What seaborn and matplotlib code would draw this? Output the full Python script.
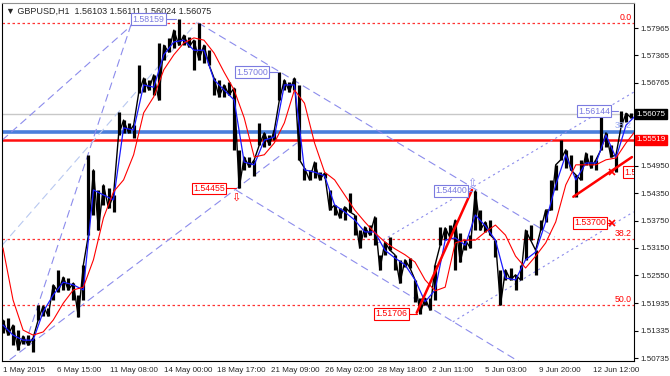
import numpy as np
import pandas as pd
import matplotlib
matplotlib.use("Agg")
import matplotlib.pyplot as plt
import seaborn as sns

# hourly GBPUSD bars, one sample every 6 bars (high / low)
bar_high = [1.5157, 1.5162, 1.5146, 1.5135, 1.5122, 1.5124, 1.5118, 1.5190, 1.5188, 1.5183,
            1.5234, 1.5267, 1.5251, 1.5249, 1.5238, 1.5212, 1.5278, 1.5519, 1.5486, 1.5442,
            1.5453, 1.5446, 1.5431, 1.5613, 1.5595, 1.5589, 1.5584, 1.5716, 1.5687, 1.5683,
            1.5694, 1.5764, 1.5759, 1.5775, 1.5792, 1.5816, 1.5781, 1.5777, 1.5770, 1.5808,
            1.5759, 1.5748, 1.5687, 1.5683, 1.5672, 1.5678, 1.5665, 1.5530, 1.5514, 1.5514,
            1.5508, 1.5589, 1.5567, 1.5562, 1.5573, 1.5700, 1.5683, 1.5678, 1.5687, 1.5672,
            1.5490, 1.5486, 1.5503, 1.5481, 1.5479, 1.5442, 1.5409, 1.5402, 1.5405, 1.5435,
            1.5387, 1.5354, 1.5361, 1.5365, 1.5383, 1.5300, 1.5328, 1.5339, 1.5300, 1.5289,
            1.5289, 1.5293, 1.5245, 1.5205, 1.5205, 1.5205, 1.5278, 1.5361, 1.5359, 1.5365,
            1.5376, 1.5348, 1.5332, 1.5343, 1.5440, 1.5398, 1.5372, 1.5376, 1.5332, 1.5267,
            1.5267, 1.5271, 1.5256, 1.5278, 1.5354, 1.5365, 1.5310, 1.5376, 1.5398, 1.5464,
            1.5497, 1.5551, 1.5530, 1.5519, 1.5475, 1.5508, 1.5523, 1.5519, 1.5508, 1.5604,
            1.5567, 1.5540, 1.5519, 1.5614, 1.5610, 1.5611]
bar_low = [1.5129, 1.5124, 1.5102, 1.5092, 1.5105, 1.5102, 1.5087, 1.5157, 1.5166, 1.5166,
           1.5201, 1.5219, 1.5223, 1.5223, 1.5201, 1.5164, 1.5201, 1.5343, 1.5387, 1.5354,
           1.5409, 1.5402, 1.5394, 1.5562, 1.5567, 1.5567, 1.5556, 1.5654, 1.5657, 1.5661,
           1.5650, 1.5639, 1.5727, 1.5744, 1.5753, 1.5759, 1.5759, 1.5755, 1.5705, 1.5727,
           1.5720, 1.5716, 1.5650, 1.5646, 1.5646, 1.5650, 1.5530, 1.5446, 1.5486, 1.5492,
           1.5473, 1.5540, 1.5536, 1.5540, 1.5551, 1.5639, 1.5661, 1.5657, 1.5661, 1.5508,
           1.5464, 1.5464, 1.5468, 1.5464, 1.5468, 1.5398, 1.5387, 1.5381, 1.5376, 1.5394,
           1.5343, 1.5315, 1.5339, 1.5343, 1.5321, 1.5267, 1.5300, 1.5310, 1.5267, 1.5238,
           1.5273, 1.5271, 1.5197, 1.5171, 1.5190, 1.5179, 1.5201, 1.5321, 1.5332, 1.5337,
           1.5267, 1.5284, 1.5310, 1.5315, 1.5354, 1.5354, 1.5350, 1.5343, 1.5295, 1.5190,
           1.5245, 1.5245, 1.5223, 1.5245, 1.5289, 1.5332, 1.5256, 1.5354, 1.5372, 1.5398,
           1.5442, 1.5508, 1.5490, 1.5486, 1.5427, 1.5464, 1.5497, 1.5490, 1.5486, 1.5530,
           1.5536, 1.5514, 1.5481, 1.5580, 1.5590, 1.5600]

# moving averages, one value every 12 bars
ma_slow = [1.5315, 1.5201, 1.5135, 1.5124, 1.5131, 1.5157, 1.5194, 1.5223, 1.5229, 1.5289,
           1.5381, 1.5438, 1.5464, 1.5519, 1.5611, 1.5646, 1.5705, 1.5738, 1.5764, 1.5775,
           1.5770, 1.5742, 1.5700, 1.5661, 1.5600, 1.5514, 1.5519, 1.5545, 1.5589, 1.5661,
           1.5632, 1.5545, 1.5481, 1.5464, 1.5431, 1.5398, 1.5372, 1.5348, 1.5328, 1.5313,
           1.5300, 1.5284, 1.5245, 1.5221, 1.5229, 1.5326, 1.5332, 1.5332, 1.5350, 1.5365,
           1.5343, 1.5297, 1.5271, 1.5297, 1.5326, 1.5372, 1.5453, 1.5497, 1.5497, 1.5497,
           1.5508, 1.5512, 1.5545, 1.5573]
ma_fast = [1.5146, 1.5124, 1.5113, 1.5113, 1.5175, 1.5212, 1.5240, 1.5234, 1.5223, 1.5442,
           1.5431, 1.5420, 1.5578, 1.5573, 1.5672, 1.5667, 1.5738, 1.5766, 1.5770, 1.5748,
           1.5748, 1.5683, 1.5661, 1.5639, 1.5503, 1.5497, 1.5551, 1.5558, 1.5672, 1.5672,
           1.5486, 1.5481, 1.5473, 1.5409, 1.5394, 1.5376, 1.5350, 1.5350, 1.5310, 1.5293,
           1.5278, 1.5245, 1.5197, 1.5223, 1.5332, 1.5337, 1.5321, 1.5387, 1.5363, 1.5332,
           1.5249, 1.5245, 1.5289, 1.5306, 1.5372, 1.5453, 1.5519, 1.5464, 1.5501, 1.5501,
           1.5562, 1.5512, 1.5584, 1.5606]

time_labels = ["1 May 2015", "6 May 15:00", "11 May 08:00", "14 May 00:00", "18 May 17:00",
               "21 May 09:00", "26 May 02:00", "28 May 18:00", "2 Jun 11:00", "5 Jun 03:00",
               "9 Jun 20:00", "12 Jun 12:00"]
price_ticks = [1.57965, 1.57365, 1.56765, 1.56165, 1.54950, 1.54350, 1.53750,
               1.53150, 1.52550, 1.51935, 1.51335, 1.50735]

# fibonacci levels (0.0, 38.2, 50.0) and support / resistance
fib_levels = [1.5808, 1.5335, 1.5190]
fib_names = ["0.0", "38.2", "50.0"]
blue_level = 1.5569
red_level = 1.55519
last_price = 1.56075

# channel / fan lines: (bar0, price0, bar1, price1)
dashed_lines = [(-1, 1.5551, 155, 1.5805), (26, 1.5102, 154, 1.5810),
                (8, 1.5070, 351, 1.5545), (233, 1.5808, 659, 1.5339),
                (278, 1.5442, 617, 1.5065)]
light_lines = [(-1, 1.5321, 232, 1.5810)]
dotted_lines = [(448, 1.5326, 753, 1.5656), (537, 1.5153, 753, 1.5394)]
trend_lines = [(494, 1.5173, 560, 1.5442), (681, 1.5427, 751, 1.5514)]

# price labels: text, bar of the point, price, colour, gap in bars
point_labels = [("1.58159", 206, 1.58159, "#7b7be0", 13),
                ("1.57000", 328, 1.57000, "#7b7be0", 12),
                ("1.54455", 278, 1.54455, "red", 13),
                ("1.54400", 560, 1.54400, "#7b7be0", 6),
                ("1.51706", 494, 1.51706, "red", 11),
                ("1.56144", 734, 1.56144, "#7b7be0", 9),
                ("1.53700", 727, 1.53700, "red", 7)]

sns.set_theme(style="white")
plt.rcParams['font.family'] = ['Liberation Sans', 'DejaVu Sans']

lav = "#8c8cec"
bars = pd.DataFrame({"t": np.arange(len(bar_high)) * 6, "high": bar_high, "low": bar_low})
ma = pd.DataFrame({"t": np.arange(len(ma_slow)) * 12, "slow": ma_slow, "fast": ma_fast})

fig = plt.figure(figsize=(6.7, 3.76), dpi=100)
ax = fig.add_axes([0.0037, 0.040, 0.9425, 0.952])

# horizontal levels
for lv in fib_levels:
    ax.axhline(lv, color="red", lw=0.9, ls=(0, (2, 2)), alpha=0.8, zorder=1)
ax.axhline(last_price, color="#c8c8c8", lw=1, zorder=1)
ax.axhline(blue_level, color="#4a7fdc", lw=2.6, zorder=1)
ax.axhline(red_level, color="#ff1010", lw=1.8, zorder=1)

for x0, y0, x1, y1 in dashed_lines:
    ax.plot([x0, x1], [y0, y1], color=lav, lw=0.8, ls=(0, (7, 4)), zorder=1)
for x0, y0, x1, y1 in light_lines:
    ax.plot([x0, x1], [y0, y1], color="#b8c8f0", lw=0.8, ls=(0, (7, 4)), zorder=1)
for x0, y0, x1, y1 in dotted_lines:
    ax.plot([x0, x1], [y0, y1], color=lav, lw=0.8, ls=(0, (2, 3)), zorder=1)

# price bars: vertical high-low bars joined by a zigzag
ax.vlines(bars["t"], bars["low"], bars["high"], color="black", lw=2.3, zorder=2)
zig = np.where(np.arange(len(bars)) % 2 == 0, bars["high"], bars["low"])
ax.plot(bars["t"], zig, color="black", lw=1.0, zorder=2)
sns.lineplot(data=ma, x="t", y="fast", color="#1a1aff", lw=0.9, ax=ax, zorder=3)
sns.lineplot(data=ma, x="t", y="slow", color="red", lw=0.8, ax=ax, zorder=3)

for x0, y0, x1, y1 in trend_lines:
    ax.plot([x0, x1], [y0, y1], color="red", lw=1.8, zorder=4)
ax.plot([727, 727], [1.5370, 1.5481], ls="none", marker="x", color="red", ms=4, mew=1.2, zorder=5)

for txt, xb, pr, col, gap in point_labels:
    ax.plot([xb - gap, xb], [pr, pr], color=col, lw=0.8, zorder=4)
    ax.text(xb - gap, pr, txt, color=col, fontsize=6.3, ha="right", va="center", zorder=6,
            bbox=dict(boxstyle="square,pad=0.15", fc="white", ec=col, lw=0.8))
ax.text(278, 1.5424, "⇩", color="red", fontsize=8, ha="center", va="center",
        family=['DejaVu Sans'], zorder=6)
ax.text(560, 1.5457, "⇧", color=lav, fontsize=8, ha="center", va="center",
        family=['DejaVu Sans'], zorder=6)
ax.text(742, 1.5481, "1.5", color="red", fontsize=6.3, ha="left", va="center", zorder=6,
        clip_on=True, bbox=dict(boxstyle="square,pad=0.15", fc="white", ec="red", lw=0.8))

ytr = ax.get_yaxis_transform()
for lv, nm in zip(fib_levels, fib_names):
    ax.text(0.997, lv + 0.0002, nm, color="red", fontsize=6.3, ha="right", va="bottom",
            transform=ytr)
ax.text(0.997, 1.5583, "38.2", color="#9aaaf0", fontsize=6.3, ha="right", va="center",
        transform=ytr)

# right price scale
ax.set_xlim(-0.6, 753.4)
ax.set_ylim(1.50674, 1.58514)
ax.yaxis.tick_right()
ax.set_yticks(price_ticks)
# 1.56165 sits under the current-price box
ax.set_yticklabels(["" if p == 1.56165 else f"{p:.5f}" for p in price_ticks])
ax.set_xticks(np.arange(len(time_labels)) * 64)
ax.set_xticklabels(time_labels, ha="left")
ax.tick_params(axis="both", labelsize=5.8, length=3, width=0.8, color="black",
               direction="out", pad=1.5)
ax.set_xlabel("")
ax.set_ylabel("")
for s in ax.spines.values():
    s.set_color("black")
    s.set_linewidth(0.8)
ax.spines["top"].set_color("#909090")

ax.text(1.004, last_price, "1.56075", color="white", fontsize=5.8, ha="left", va="center",
        transform=ytr, clip_on=False,
        bbox=dict(boxstyle="square,pad=0.2", fc="black", ec="black"))
ax.text(1.004, red_level, "1.55519", color="white", fontsize=5.8, ha="left", va="center",
        transform=ytr, clip_on=False,
        bbox=dict(boxstyle="square,pad=0.2", fc="red", ec="red"))

ax.text(0.005, 0.99, "▼ GBPUSD,H1  1.56103 1.56111 1.56024 1.56075", fontsize=6.5,
        ha="left", va="top", transform=ax.transAxes)

fig.savefig("out.png", dpi=100)
